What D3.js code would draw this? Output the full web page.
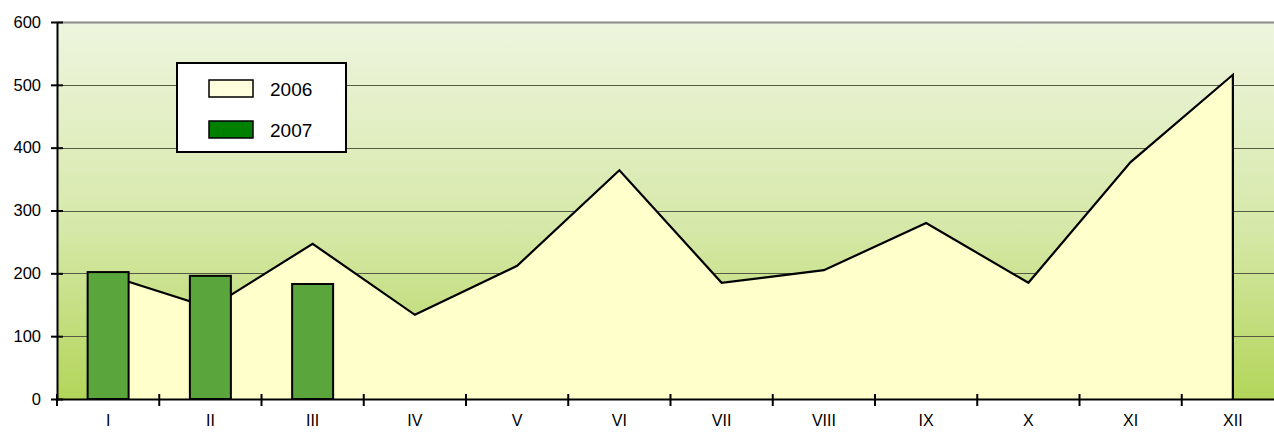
<!DOCTYPE html>
<html>
<head>
<meta charset="utf-8">
<script src="https://cdn.jsdelivr.net/npm/d3@7/dist/d3.min.js"></script>
<style>
  body { margin: 0; background: #fff; }
  text { font-family: "Liberation Sans", Arial, sans-serif; }
</style>
</head>
<body>
<div id="chart"></div>
<script>
// data
const months = ["I", "II", "III", "IV", "V", "VI", "VII", "VIII", "IX", "X", "XI", "XII"];
const values2006 = [197, 145, 247, 134, 212, 364, 185, 205, 280, 185, 377, 516];
const values2007 = [202, 196, 183];
const yTicks = [0, 100, 200, 300, 400, 500, 600];
const seriesNames = ["2006", "2007"];

// 1) canvas
const W = 1274, H = 432;
const margin = { top: 22, left: 57, bottom: 33 };
const plotW = 1227; // runs past the right edge, as in the reference
const plotH = H - margin.top - margin.bottom;

const svg = d3.select("#chart").append("svg")
  .attr("width", W).attr("height", H);

// 2) gradient background
const defs = svg.append("defs");
const grad = defs.append("linearGradient")
  .attr("id", "bg").attr("x1", 0).attr("y1", 0).attr("x2", 0).attr("y2", 1);
grad.append("stop").attr("offset", "0%").attr("stop-color", "#eef5df");
grad.append("stop").attr("offset", "55%").attr("stop-color", "#d6e8a8");
grad.append("stop").attr("offset", "100%").attr("stop-color", "#b3d55a");

const g = svg.append("g").attr("transform", `translate(${margin.left},${margin.top})`);

// 3) scales
const x = d3.scaleBand().domain(months).range([0, plotW]);
const y = d3.scaleLinear().domain([0, 600]).range([plotH, 0]);
const cx = m => x(m) + x.bandwidth() / 2;

g.append("rect")
  .attr("width", plotW).attr("height", plotH)
  .attr("fill", "url(#bg)");

// 4) gridlines
g.selectAll("line.grid")
  .data(yTicks.filter(d => d > 0))
  .enter().append("line")
    .attr("class", "grid")
    .attr("x1", 0).attr("x2", plotW)
    .attr("y1", d => Math.round(y(d)) + 0.5).attr("y2", d => Math.round(y(d)) + 0.5)
    .attr("stroke", d => d === 600 ? "#8a8a8a" : "#555a44")
    .attr("stroke-width", d => d === 600 ? 2 : 1);

// 5) area for 2006
const area = d3.area()
  .x((d, i) => cx(months[i]))
  .y0(y(0))
  .y1(d => y(d));
g.append("path")
  .datum(values2006)
  .attr("d", area)
  .attr("fill", "#ffffcc");

const outline = values2006.map((d, i) => [cx(months[i]), y(d)]);
outline.push([cx(months[months.length - 1]), y(0)]);
g.append("path")
  .attr("d", d3.line()(outline))
  .attr("fill", "none")
  .attr("stroke", "#000")
  .attr("stroke-width", 2.2)
  .attr("stroke-linejoin", "miter");

// 6) bars for 2007
const barW = 41;
g.selectAll("rect.bar")
  .data(values2007)
  .enter().append("rect")
    .attr("class", "bar")
    .attr("x", (d, i) => cx(months[i]) - barW / 2)
    .attr("y", d => y(d))
    .attr("width", barW)
    .attr("height", d => y(0) - y(d))
    .attr("fill", "#5aa53c")
    .attr("stroke", "#000")
    .attr("stroke-width", 2);

// 7) axes
const yAxis = g.append("g")
  .call(d3.axisLeft(y).tickValues(yTicks).tickSizeInner(6).tickSizeOuter(0).tickPadding(10));
yAxis.select(".domain").attr("stroke", "#000").attr("stroke-width", 2);
yAxis.selectAll(".tick line").attr("stroke-width", 2).attr("x2", -6).attr("x1", 6);
yAxis.selectAll("text").style("font-size", "16.5px").attr("fill", "#000");

const xAxis = g.append("g")
  .attr("transform", `translate(0,${plotH})`)
  .call(d3.axisBottom(x).tickSize(0).tickPadding(16));
xAxis.select(".domain").attr("stroke", "#000").attr("stroke-width", 2);
xAxis.selectAll("text").style("font-size", "16px").attr("fill", "#000");

// band-edge ticks on the category axis
g.selectAll("line.xtick")
  .data(months)
  .enter().append("line")
    .attr("class", "xtick")
    .attr("x1", d => x(d)).attr("x2", d => x(d))
    .attr("y1", plotH - 5).attr("y2", plotH + 7)
    .attr("stroke", "#000").attr("stroke-width", 2);

// 8) legend
const legend = svg.append("g").attr("transform", "translate(177,63)");
legend.append("rect")
  .attr("width", 169).attr("height", 89)
  .attr("fill", "#fff").attr("stroke", "#000").attr("stroke-width", 2);
const legendFill = ["#ffffdd", "#008000"];
seriesNames.forEach((name, i) => {
  legend.append("rect")
    .attr("x", 32).attr("y", 17 + i * 41)
    .attr("width", 44).attr("height", 17)
    .attr("fill", legendFill[i]).attr("stroke", "#000").attr("stroke-width", 1.5);
  legend.append("text")
    .attr("x", 93).attr("y", 33 + i * 41)
    .style("font-size", "19px")
    .text(name);
});
</script>
</body>
</html>
